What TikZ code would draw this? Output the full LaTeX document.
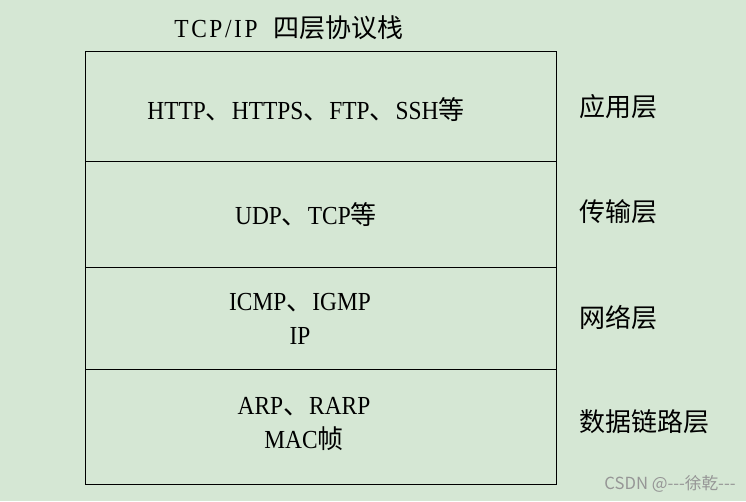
\documentclass[tikz,border=0pt]{standalone}
\usepackage{fontspec}
\setmainfont{Liberation Serif}[FakeStretch=0.9]
\newfontfamily\cjk{Noto Sans CJK SC}
\newcommand{\zh}[1]{{\cjk #1}}

\definecolor{pageGreen}{RGB}{213,231,212}
\definecolor{markGray}{RGB}{150,150,150}

\tikzset{every picture/.style={line width=0.75pt}}
\tikzset{
  layer/.style={draw, minimum width=471*0.75pt, inner sep=0pt, anchor=north west},
  label/.style={font=\fontsize{19.5pt}{26pt}\selectfont, align=center},
}

\begin{document}
\begin{tikzpicture}[x=0.75pt,y=0.75pt,yscale=-1,xscale=1]
%Background
\fill [pageGreen] (0,0) rectangle (746,501);
\useasboundingbox (0,0) rectangle (746,501);

% Title
\node [label] (title) at (289,28) {{\addfontfeatures{LetterSpace=10}TCP/IP}\hspace{12pt}\zh{四层协议栈}};

%Shape: Layers
\node [layer, minimum height=110*0.75pt] (app) at (85,51) {};
\node [layer, minimum height=106*0.75pt] (trans) at (85,161) {};
\node [layer, minimum height=102*0.75pt] (net) at (85,267) {};
\node [layer, minimum height=115*0.75pt] (link) at (85,369) {};

% Text Node
\node [label] (appTxt) at (306,110) {HTTP\zh{、}HTTPS\zh{、}FTP\zh{、}SSH\zh{等}};
% Text Node
\node [label] (transTxt) at (306,215) {UDP\zh{、}TCP\zh{等}};
% Text Node
\node [label] (netTxt) at (300,319) {ICMP\zh{、}IGMP\\IP};
% Text Node
\node [label] (linkTxt) at (304,424) {ARP\zh{、}RARP\\MAC\zh{帧}};

% Text Node
\node [label, anchor=west] (appName) at (575,107) {\zh{应用层}};
% Text Node
\node [label, anchor=west] (transName) at (575,212) {\zh{传输层}};
% Text Node
\node [label, anchor=west] (netName) at (575,318) {\zh{网络层}};
% Text Node
\node [label, anchor=west] (linkName) at (575,422) {\zh{数据链路层}};

% Watermark
\node [font=\cjk\fontsize{12.5pt}{14pt}\selectfont, text=markGray] (mark) at (670,484) {CSDN @---徐乾---};

\end{tikzpicture}
\end{document}
